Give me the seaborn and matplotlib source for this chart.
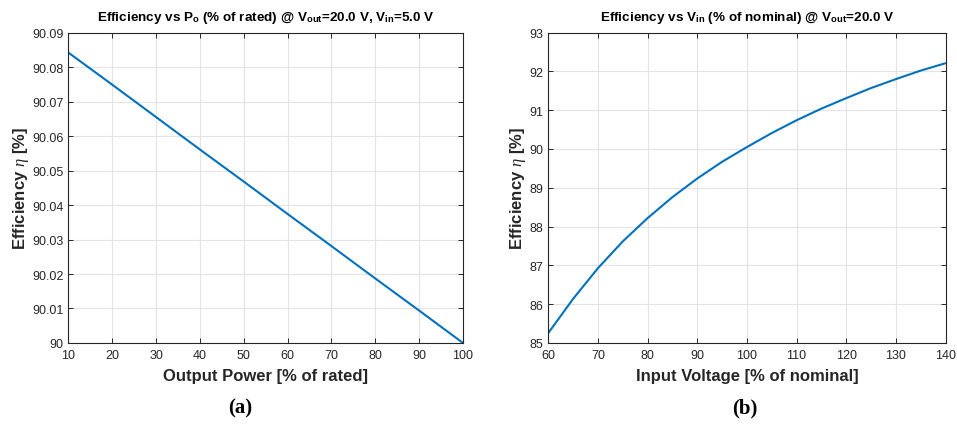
import matplotlib
matplotlib.use("Agg")
import matplotlib.pyplot as plt
import seaborn as sns
import pandas as pd
from matplotlib.ticker import FuncFormatter, FixedLocator

# ---- data ----
power_pct = [10, 20, 30, 40, 50, 60, 70, 80, 90, 100]
eff_power = [90.0842, 90.0749, 90.0655, 90.0561, 90.0468, 90.0374, 90.0281, 90.0187, 90.0094, 90.0000]

vin_pct = [60, 65, 70, 75, 80, 85, 90, 95, 100, 105, 110, 115, 120, 125, 130, 135, 140]
eff_vin = [85.26, 86.14, 86.93, 87.62, 88.22, 88.76, 89.24, 89.67, 90.05, 90.41,
           90.74, 91.04, 91.31, 91.57, 91.80, 92.02, 92.21]

xticks_a = [10, 20, 30, 40, 50, 60, 70, 80, 90, 100]
yticks_a = [90.00, 90.01, 90.02, 90.03, 90.04, 90.05, 90.06, 90.07, 90.08, 90.09]
xticks_b = [60, 70, 80, 90, 100, 110, 120, 130, 140]
yticks_b = [85, 86, 87, 88, 89, 90, 91, 92, 93]

title_a = r'Efficiency vs P$_\mathbf{o}$ (% of rated) @ V$_\mathbf{out}$=20.0 V, V$_\mathbf{in}$=5.0 V'
title_b = r'Efficiency vs V$_\mathbf{in}$ (% of nominal) @ V$_\mathbf{out}$=20.0 V'
xlabel_a = 'Output Power [% of rated]'
xlabel_b = 'Input Voltage [% of nominal]'
ylabel = r'Efficiency $\eta$ [%]'

sns.set_theme(style="white")
plt.rcParams['font.family'] = ['Liberation Sans', 'DejaVu Sans']
plt.rcParams['mathtext.fontset'] = 'custom'
plt.rcParams['mathtext.rm'] = 'Liberation Sans'
plt.rcParams['mathtext.bf'] = 'Liberation Sans:bold'
plt.rcParams['mathtext.it'] = 'Liberation Serif:italic'

LINE = '#0072BD'
DARK = '#262626'

df_a = pd.DataFrame({'x': power_pct, 'y': eff_power})
df_b = pd.DataFrame({'x': vin_pct, 'y': eff_vin})

fig = plt.figure(figsize=(9.57, 4.27), dpi=100)
ax1 = fig.add_axes([0.0714, 0.1944, 0.4124, 0.727])
ax2 = fig.add_axes([0.5730, 0.1944, 0.4150, 0.727])

fmt = FuncFormatter(lambda v, p: f'{v:g}')

for ax, df, xt, yt, title, xl in [
    (ax1, df_a, xticks_a, yticks_a, title_a, xlabel_a),
    (ax2, df_b, xticks_b, yticks_b, title_b, xlabel_b),
]:
    sns.lineplot(data=df, x='x', y='y', ax=ax, color=LINE, linewidth=1.5)
    ax.set_xlim(xt[0], xt[-1])
    ax.set_ylim(yt[0], yt[-1])
    ax.xaxis.set_major_locator(FixedLocator(xt))
    ax.yaxis.set_major_locator(FixedLocator(yt))
    ax.xaxis.set_major_formatter(fmt)
    ax.yaxis.set_major_formatter(fmt)
    ax.grid(True, color='#e3e3e3', linewidth=0.8)
    ax.set_axisbelow(True)
    for s in ax.spines.values():
        s.set_visible(True)
        s.set_color(DARK)
        s.set_linewidth(0.8)
    ax.tick_params(axis='both', which='both', direction='in', length=3.5, width=0.7,
                   color=DARK, labelcolor=DARK, labelsize=9, top=True, right=True,
                   bottom=True, left=True)
    ax.tick_params(axis='x', pad=4.5)
    ax.tick_params(axis='y', pad=3.5)
    ax.set_title(title, fontsize=9.7, fontweight='bold', color='black', pad=9)
    ax.set_xlabel(xl, fontsize=12, fontweight='bold', color=DARK, labelpad=5)
    ax.set_ylabel(ylabel, fontsize=12, fontweight='bold', color=DARK, labelpad=0.8)

fig.text(0.251, 0.043, '(a)', fontsize=15, fontweight='bold', family='Liberation Serif',
         ha='center', va='center', color='black')
fig.text(0.778, 0.043, '(b)', fontsize=15, fontweight='bold', family='Liberation Serif',
         ha='center', va='center', color='black')

fig.savefig('out.png', dpi=100)
